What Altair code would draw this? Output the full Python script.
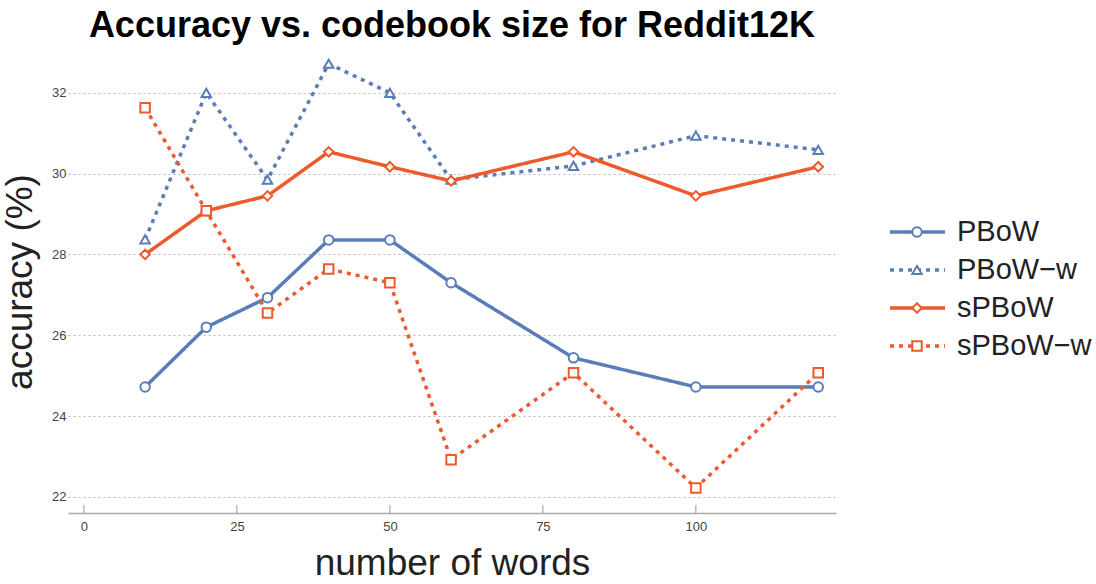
import altair as alt
import pandas as pd

# Codebook sizes (number of words) and accuracy (%) per method
words = [10, 20, 30, 40, 50, 60, 80, 100, 120]
pbow = [24.72, 26.2, 26.93, 28.36, 28.36, 27.3, 25.44, 24.72, 24.72]
pbow_w = [28.37, 32.0, 29.85, 32.72, 32.0, 29.85, 30.19, 30.94, 30.59]
spbow = [28.0, 29.08, 29.45, 30.54, 30.17, 29.82, 30.54, 29.45, 30.17]
spbow_w = [31.63, 29.08, 26.55, 27.64, 27.3, 22.92, 25.07, 22.22, 25.07]

series_names = ["PBoW", "PBoW\u2212w", "sPBoW", "sPBoW\u2212w"]
series_values = [pbow, pbow_w, spbow, spbow_w]
series_colors = ["#5A7DB8", "#5A7DB8", "#EE5A2B", "#EE5A2B"]
series_dash = [[1, 0], [4, 5], [1, 0], [4, 5]]
series_shapes = ["circle", "triangle-up", "diamond", "square"]

x_ticks = [0, 25, 50, 75, 100]
y_ticks = [22, 24, 26, 28, 30, 32]

rows = []
for name, vals in zip(series_names, series_values):
    for w, v in zip(words, vals):
        rows.append({"words": w, "accuracy": v, "series": name})
df = pd.DataFrame(rows)
legend_df = pd.DataFrame({"series": series_names})
ticks_df = pd.DataFrame({"t": x_ticks})

W, H = 768, 463
FONT = "Liberation Sans"

color_scale = alt.Scale(domain=series_names, range=series_colors)
dash_scale = alt.Scale(domain=series_names, range=series_dash)
shape_scale = alt.Scale(domain=series_names, range=series_shapes)

x_enc = alt.X(
    "words:Q",
    scale=alt.Scale(domain=[-2.6, 122.9], nice=False, zero=False),
    axis=alt.Axis(
        values=x_ticks, grid=False, ticks=False, domainColor="#aaaaaa",
        domainWidth=1.5, labelPadding=7, labelFontSize=13, labelColor="#444444",
        labelFont=FONT, title="number of words", titleFontSize=37,
        titleFontWeight="normal", titleFont=FONT, titleColor="#222222",
        titlePadding=12,
    ),
)
y_enc = alt.Y(
    "accuracy:Q",
    scale=alt.Scale(domain=[21.6, 33.06], nice=False, zero=False),
    axis=alt.Axis(
        values=y_ticks, grid=True, gridDash=[2, 3], gridColor="#b8b8b8",
        gridWidth=1.2, domain=False, ticks=False, labelPadding=2,
        labelFontSize=13, labelColor="#444444", labelFont=FONT,
        title="accuracy (%)", titleFontSize=37, titleFontWeight="normal",
        titleFont=FONT, titleColor="#222222", titlePadding=12,
    ),
)

base = alt.Chart(df)

lines = base.mark_line(strokeWidth=3.5).encode(
    x=x_enc,
    y=y_enc,
    color=alt.Color("series:N", scale=color_scale, legend=None),
    strokeDash=alt.StrokeDash("series:N", scale=dash_scale, legend=None),
    detail="series:N",
)

points = base.mark_point(filled=True, fill="white", strokeWidth=2, size=90, opacity=1).encode(
    x="words:Q",
    y="accuracy:Q",
    stroke=alt.Stroke("series:N", scale=color_scale, legend=None),
    shape=alt.Shape("series:N", scale=shape_scale, legend=None),
)

# inward tick marks on the x axis
x_tick_marks = alt.Chart(ticks_df).mark_rule(color="#999999", strokeWidth=1).encode(
    x="t:Q", y=alt.value(H - 8), y2=alt.value(H)
)

main = alt.layer(lines, points, x_tick_marks)

# legend panel drawn to the right of the plot
leg_y = alt.Y(
    "series:N",
    scale=alt.Scale(type="point", domain=series_names, range=[182, 296], padding=0),
    axis=None,
)
leg_lines = alt.Chart(legend_df).mark_rule(strokeWidth=3.5).encode(
    y=leg_y,
    x=alt.value(W + 54),
    x2=alt.value(W + 109),
    color=alt.Color("series:N", scale=color_scale, legend=None),
    strokeDash=alt.StrokeDash("series:N", scale=dash_scale, legend=None),
)
leg_pts = alt.Chart(legend_df).mark_point(
    filled=True, fill="white", strokeWidth=2, size=90, opacity=1
).encode(
    y=leg_y,
    x=alt.value(W + 81),
    stroke=alt.Stroke("series:N", scale=color_scale, legend=None),
    shape=alt.Shape("series:N", scale=shape_scale, legend=None),
)
leg_text = alt.Chart(legend_df).mark_text(
    align="left", baseline="middle", fontSize=29, font=FONT, color="#222222"
).encode(y=leg_y, x=alt.value(W + 121), text="series:N")

legend = alt.layer(leg_lines, leg_pts, leg_text)

chart = (
    alt.layer(main, legend)
    .resolve_scale(y="independent")
    .properties(
        width=W,
        height=H,
        title=alt.TitleParams(
            "Accuracy vs. codebook size for Reddit12K",
            fontSize=36, font=FONT, fontWeight="bold", color="#000000",
            anchor="middle", offset=5,
        ),
        autosize=alt.AutoSizeParams(type="none"),
        padding={"left": 68, "top": 50, "right": 260, "bottom": 71},
        background="white",
    )
    .configure_view(stroke=None)
)

chart.save("out.html", embed_options={"renderer": "svg", "actions": False})
